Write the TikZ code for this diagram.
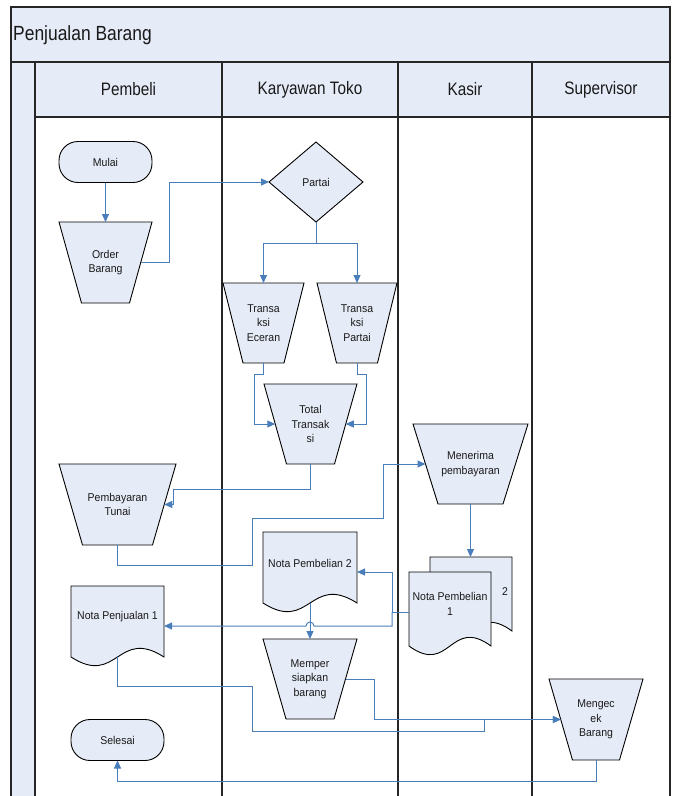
\documentclass[tikz,border=0pt]{standalone}
\usepackage{fontspec}
\setmainfont{Liberation Sans}
\newfontfamily\hdrfont[FakeStretch=0.85]{Liberation Sans}
\newfontfamily\nodefont[FakeStretch=0.93]{Liberation Sans}
\usetikzlibrary{shapes.geometric,arrows.meta,calc}
\definecolor{lanefill}{HTML}{E6ECF7}
\definecolor{connblue}{HTML}{4A7EBB}
\tikzset{
  shapeline/.style={draw=black, line width=0.9pt, fill=lanefill},
  txt/.style={inner sep=0pt, outer sep=0pt, align=center, text=black!90, font=\nodefont\fontsize{11.3}{14.5}\selectfont},
  conn/.style={draw=connblue, line width=1pt, -{Triangle[length=8pt,width=7pt]}},
  lane/.style={draw=black!85, line width=1.2pt},
  terminal/.style={shapeline, txt, rounded corners=19pt, minimum width=93pt, minimum height=41pt},
  decision/.style={shapeline, txt, diamond, minimum width=94pt, minimum height=80pt},
  hdr/.style={inner sep=0pt, text=black!90, font=\hdrfont\fontsize{18}{21}\selectfont}
}
% trapezoid: name, cx, cy, top width, bottom width, height, text
\newcommand{\mytrap}[7]{%
  \filldraw[shapeline] ({#2-#4/2},{#3-#6/2}) -- ({#2+#4/2},{#3-#6/2}) -- ({#2+#5/2},{#3+#6/2}) -- ({#2-#5/2},{#3+#6/2}) -- cycle;
  \node[txt, minimum width={(#4+#5)/2}, minimum height=#6] (#1) at (#2,#3) {#7};}
% document: name, x1, x2, top, wave y, text centre y, text
\newcommand{\mydoc}[7]{%
  \filldraw[shapeline] (#2,#4) -- (#3,#4) -- (#3,#5) .. controls ({(#2+#3)/2},{#5-30}) and ({(#2+#3)/2},{#5+30}) .. (#2,#5) -- cycle;
  \node[txt, minimum width={#3-#2}, minimum height={2*(#6-#4)}] (#1) at ({(#2+#3)/2},#6) {#7};}
\begin{document}
\begin{tikzpicture}[x=1pt,y=-1pt]
\useasboundingbox (0,0) rectangle (673,796);
% pool and lanes
\fill[lanefill] (11,7) rectangle (670,62);
\fill[lanefill] (35,62) rectangle (670,117);
\fill[lanefill] (11,62) rectangle (35,796);
\draw[lane] (11,796) -- (11,7) -- (670,7) -- (670,796);
\draw[lane] (11,62) -- (670,62);
\draw[lane] (35,117) -- (670,117);
\foreach \x in {35,222,398,532} \draw[lane] (\x,62) -- (\x,796);
\node[anchor=west, inner sep=0pt, text=black!90, font=\hdrfont\fontsize{20.5}{24}\selectfont] (title) at (13,35) {Penjualan Barang};
\node[hdr] (hpembeli) at (128.5,89.5) {Pembeli};
\node[hdr] (hkaryawan) at (310,89.5) {Karyawan Toko};
\node[hdr] (hkasir) at (465,89.5) {Kasir};
\node[hdr] (hsuper) at (601,89.5) {Supervisor};

% shapes
\node[terminal] (mulai) at (105.5,162) {Mulai};
\mytrap{ob}{105.5}{262.5}{93}{48}{81}{Order\\Barang}
\node[decision] (partai) at (316,182) {Partai};
\mytrap{te}{263.5}{323}{81}{41}{80}{Transa\\ksi\\Eceran}
\mytrap{tp}{357}{323}{80}{41}{80}{Transa\\ksi\\Partai}
\mytrap{tt}{310.5}{424}{93}{48}{80}{Total\\Transak\\si}
\mytrap{pt}{117.5}{504.5}{117}{70}{81}{Pembayaran\\Tunai}
\mytrap{mp}{470.5}{464}{115}{65}{80}{Menerima\\pembayaran}
\mydoc{np2}{263}{357}{532}{603}{563}{Nota Pembelian 2}
\mydoc{nb}{430}{512}{557}{631}{589}{}
\node[txt] (nb2) at (505,592) {2};
\mydoc{np1}{409}{491}{572}{646}{604}{Nota Pembelian\\1}
\mydoc{nj1}{71}{164}{586}{657}{617}{Nota Penjualan 1}
\mytrap{ms}{310}{679}{94}{48}{80}{Memper\\siapkan\\barang}
\mytrap{mb}{596}{719.5}{94}{47}{81}{Mengec\\ek\\Barang}
\node[terminal] (selesai) at (117.5,740) {Selesai};

% connectors
\draw[conn] (mulai.south) -- (mulai.south |- ob.north);
\draw[conn] (ob.east) -- ++(29,0) |- (partai.west);
\draw[conn] (partai.south) -- ++(0,21) -| (te.north);
\draw[conn] (partai.south) -- ++(0,21) -| (tp.north);
\draw[conn] (te.south) -- ++(0,11) -- ++(-9.5,0) |- (tt.west);
\draw[conn] (tp.south) -- ++(0,11) -- ++(9,0) |- (tt.east);
\draw[conn] (tt.south) -- ++(0,25) -| ([xshift=9pt]pt.east) -- (pt.east);
\draw[conn] (pt.south) -- ++(0,20) -- ++(134.5,0) -- ++(0,-47) -- ++(131,0) |- (mp.west);
\draw[conn] (mp.south) -- (mp.south |- nb.north);
\draw[conn] ([yshift=-8pt]np1.west) -- ++(-17,0) coordinate (j) |- ([yshift=-9pt]np2.east);
\path ([yshift=-9pt]nj1.east) coordinate (nje);
\coordinate (hop) at (ms.north |- nje);
\draw[conn] (j) |- ([xshift=4pt]hop) arc[start angle=0, end angle=180, radius=4pt] -- (nje);
\draw[conn] ([yshift=-9pt]np2.south) -- (ms.north);
\draw[conn] ([yshift=-9pt]nj1.south) -- ++(0,29) -- ++(134.5,0) -- ++(0,45) -- ++(232,0) |- (mb.west);
\draw[conn] (ms.east) -- ++(28.5,0) |- (mb.west);
\draw[conn] (mb.south) -- ++(0,21) -| (selesai.south);
\end{tikzpicture}
\end{document}
